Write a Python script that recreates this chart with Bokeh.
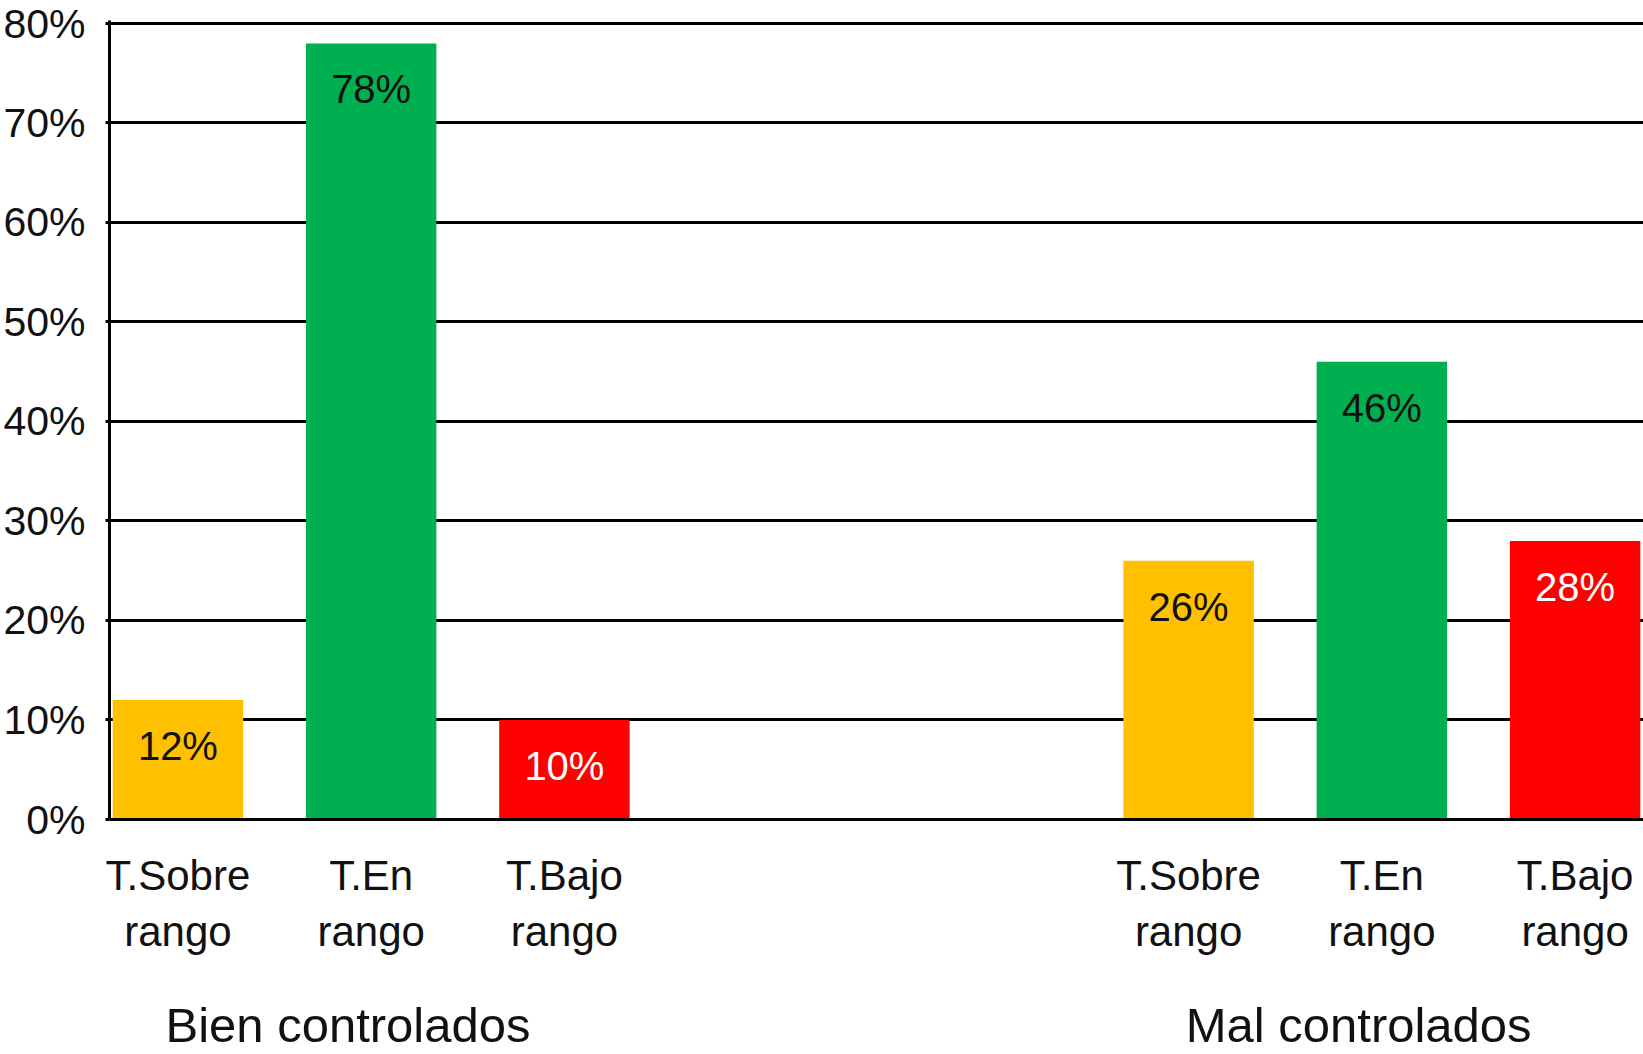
from bokeh.plotting import figure
from bokeh.models import (ColumnDataSource, Range1d, FixedTicker,
                          PrintfTickFormatter, LinearAxis, CustomJSTickFormatter)
from bokeh.core.properties import value
from bokeh.embed import file_html
from bokeh.resources import INLINE

groups = ["Bien controlados", "Mal controlados"]
categories = ["T.Sobre\nrango", "T.En\nrango", "T.Bajo\nrango"]
bien_values = [12, 78, 10]
mal_values = [26, 46, 28]
y_ticks = [0, 10, 20, 30, 40, 50, 60, 70, 80]

bar_colors = ["#FFC000", "#00B050", "#FF0000"]
text_colors = ["#111111", "#111111", "#FFFFFF"]

FONT = "Liberation Sans"
GPAD = 2.23          # gap between the two groups, in bar slots
PAD = -0.146         # range padding at both ends, in bar slots
GROUP_LABEL_SHIFT = 0.12  # group titles sit slightly left of the group centre
BAR_WIDTH = 0.675

n = len(categories)
step = n + GPAD
series = [bien_values, mal_values]

xs, tops, fills, tcols, labels, tick_labels = [], [], [], [], [], []
for gi, vals_g in enumerate(series):
    for ci, v in enumerate(vals_g):
        xs.append(gi * step + ci + 0.5)
        tops.append(v)
        fills.append(bar_colors[ci])
        tcols.append(text_colors[ci])
        labels.append(f"{v}%")
        tick_labels.append(categories[ci])

src = ColumnDataSource(dict(x=xs, top=tops, fill=fills, tcol=tcols, label=labels))

total = len(groups) * n + (len(groups) - 1) * GPAD
p = figure(
    width=1643, height=1054,
    x_range=Range1d(-PAD, total + PAD),
    y_range=Range1d(0, 80.3),
    output_backend="svg", toolbar_location=None,
    min_border_left=107, min_border_top=20, min_border_right=0,
    min_border_bottom=234,
)
p.outline_line_color = None
p.background_fill_color = "white"

p.vbar(x="x", top="top", width=BAR_WIDTH, source=src, line_color=None,
       fill_color="fill")

p.text(x="x", y="top", text="label", source=src, y_offset=46,
       text_align="center", text_baseline="middle",
       text_font=value(FONT), text_font_size="40px", text_color="tcol")

# y axis
p.yaxis.ticker = FixedTicker(ticks=y_ticks)
p.yaxis.formatter = PrintfTickFormatter(format="%d%%")
p.yaxis.axis_line_color = "black"
p.yaxis.axis_line_width = 3
p.yaxis.major_tick_line_color = "black"
p.yaxis.major_tick_line_width = 3
p.yaxis.major_tick_in = 0
p.yaxis.major_tick_out = 4
p.yaxis.minor_tick_line_color = None
p.yaxis.major_label_standoff = 20
p.yaxis.major_label_text_font = FONT
p.yaxis.major_label_text_font_size = "41px"
p.yaxis.major_label_text_color = "#111111"

p.ygrid.grid_line_color = "black"
p.ygrid.grid_line_width = 3
p.xgrid.grid_line_color = None

# x axis (category labels)
p.xaxis.ticker = FixedTicker(ticks=xs)
p.xaxis.formatter = CustomJSTickFormatter(args=dict(labels=tick_labels),
                                          code="return labels[index];")
p.xaxis.axis_line_color = "black"
p.xaxis.axis_line_width = 3
p.xaxis.major_tick_line_color = None
p.xaxis.minor_tick_line_color = None
p.xaxis.major_label_standoff = 26
p.xaxis.major_label_text_font = FONT
p.xaxis.major_label_text_font_size = "42px"
p.xaxis.major_label_text_color = "#111111"

# group labels axis
gax = LinearAxis(
    ticker=FixedTicker(ticks=[gi * step + n / 2 - GROUP_LABEL_SHIFT
                              for gi in range(len(groups))]),
    formatter=CustomJSTickFormatter(args=dict(labels=groups),
                                    code="return labels[index];"))
gax.axis_line_color = None
gax.major_tick_line_color = None
gax.minor_tick_line_color = None
gax.major_label_standoff = 34
gax.major_label_text_font = FONT
gax.major_label_text_font_size = "49px"
gax.major_label_text_color = "#111111"
p.add_layout(gax, "below")

open("out.html", "w").write(file_html(p, INLINE))
